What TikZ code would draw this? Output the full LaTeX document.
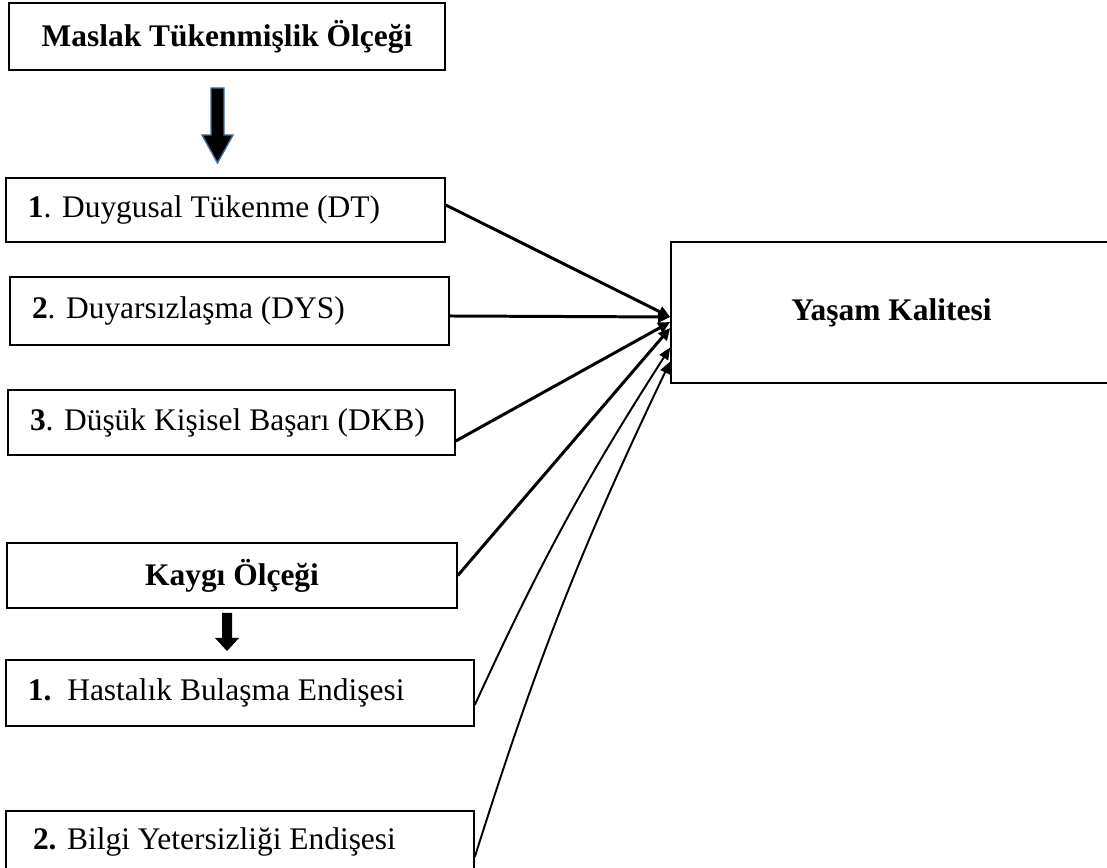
\documentclass[tikz,border=0pt]{standalone}
\usepackage{fontspec}
\setmainfont{Liberation Serif}
\definecolor{okmavi}{HTML}{41719C}
\usepackage{tikz}
\usetikzlibrary{arrows.meta, positioning, calc}

\begin{document}
\begin{tikzpicture}[>=Latex,
    kutu/.style={draw, line width=0.9pt, inner xsep=0.44cm,
                 font=\fontsize{17.9}{21}\selectfont},
    baslik/.style={draw, line width=0.9pt, align=center,
                 font=\fontsize{17.9}{21}\selectfont\bfseries},
    etki/.style={-{Triangle[length=0.24cm,width=0.22cm]}, line width=1.7pt},
    ince/.style={-{Triangle[length=0.24cm,width=0.2cm]}, line width=1.1pt}]
      \useasboundingbox (0,0) rectangle (22.14,17.36);
      % Burnout scale and its sub-dimensions
      \node[baslik, minimum width=8.72cm, minimum height=1.34cm] (mto) at (4.54,16.63) {Maslak Tükenmişlik Ölçeği};
      \node[kutu, minimum height=1.28cm] (dt) at (4.51,13.16) {\makebox[7.90cm][l]{\textbf{1}. Duygusal Tükenme (DT)}};
      \node[kutu, minimum height=1.36cm] (dys) at (4.59,11.14) {\makebox[7.90cm][l]{\textbf{2}. Duyarsızlaşma (DYS)}};
      \node[kutu, minimum height=1.30cm] (dkb) at (4.63,8.91) {\makebox[8.06cm][l]{\textbf{3}. Düşük Kişisel Başarı (DKB)}};
      % Anxiety scale and its sub-dimensions
      \node[baslik, minimum width=9.00cm, minimum height=1.30cm] (ko) at (4.64,5.85) {Kaygı Ölçeği};
      \node[kutu, minimum height=1.32cm] (hb) at (4.80,3.50) {\makebox[8.48cm][l]{\textbf{1.}\ \ Hastalık Bulaşma Endişesi}};
      \node[kutu, minimum height=1.22cm] (by) at (4.80,0.53) {\makebox[8.48cm][l]{\hspace{0.1cm}\textbf{2.} Bilgi Yetersizliği Endişesi}};
      % Outcome
      \node[baslik, minimum width=8.82cm, minimum height=2.82cm] (yk) at (17.83,11.11) {Yaşam Kalitesi};
      % Block arrows
      \draw[okmavi, line width=0.8pt, fill=black] (4.22,15.60) -- (4.48,15.60) -- (4.48,14.66) -- (4.66,14.66)
            -- (4.35,14.10) -- (4.04,14.66) -- (4.22,14.66) -- cycle;
      \fill (4.44,5.10) -- (4.64,5.10) -- (4.64,4.60) -- (4.78,4.60) -- (4.54,4.34) -- (4.30,4.60) -- (4.44,4.60) -- cycle;
      % Effects on quality of life
      \draw[etki] ([yshift=0.1cm]dt.east) -- ([yshift=-0.09cm]yk.west);
      \draw[etki] ([yshift=-0.1cm]dys.east) -- ([yshift=-0.09cm]yk.west);
      \draw[etki] ([yshift=-0.37cm]dkb.east) -- ([yshift=-0.19cm]yk.west);
      \draw[etki] (ko.east) -- ([yshift=-0.31cm]yk.west);
      \draw[ince] ([yshift=-0.24cm]hb.east) to[bend left=4] ([yshift=-0.70cm]yk.west);
      \draw[ince] ([yshift=-0.31cm]by.east) to[bend left=4] ([yshift=-0.98cm]yk.west);
    \end{tikzpicture}
\end{document}
